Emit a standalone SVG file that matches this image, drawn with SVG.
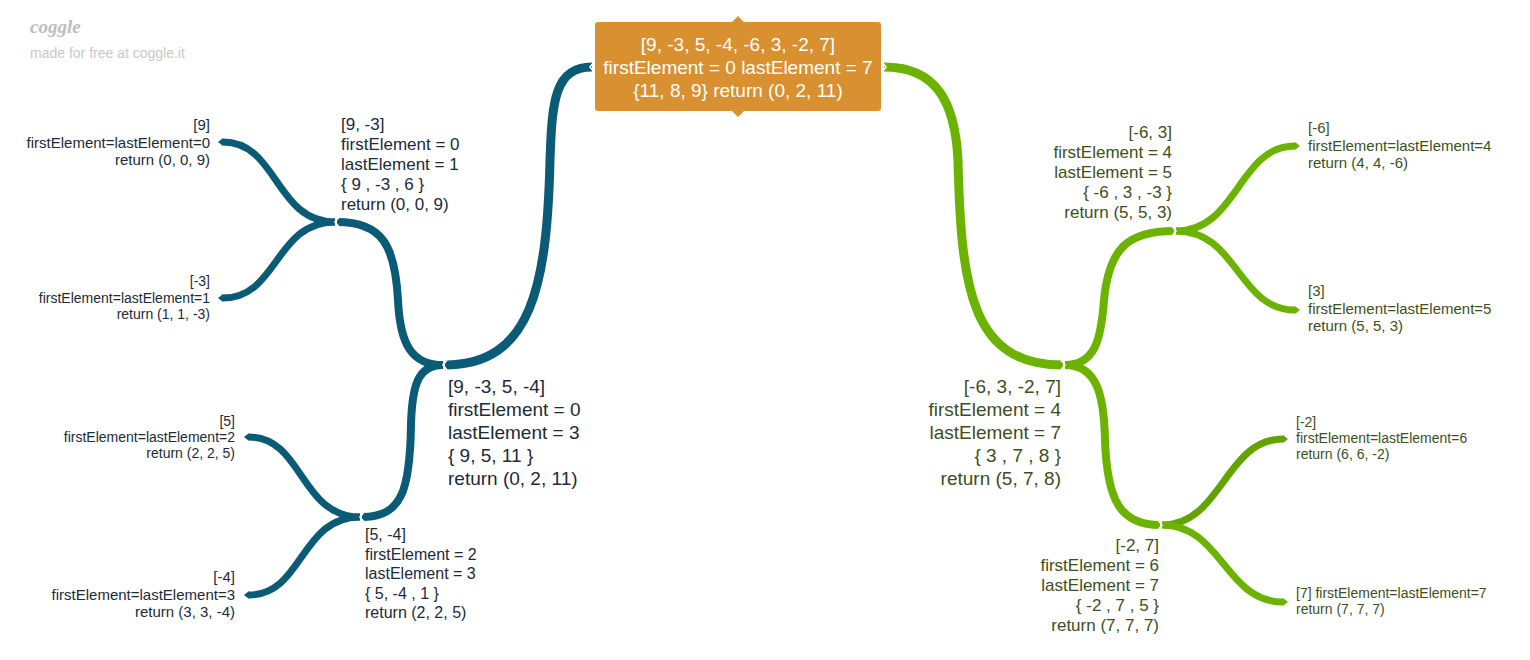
<svg xmlns="http://www.w3.org/2000/svg" width="1530" height="660" viewBox="0 0 1530 660">
<style>
text{font-family:"Liberation Sans",Arial,sans-serif}
text.logo{font-family:"Liberation Serif","Times New Roman",serif;font-style:italic;font-weight:bold}
.tl{fill:#1b2b38}
.tr{fill:#3d4f1a}
.c{fill:none;stroke-linecap:butt}
.teal{stroke:#0b5a76}
.grn{stroke:#6cb200}
.dgrn{stroke:#63a300}
.chev{fill:none;stroke:#fff;stroke-width:1.6;stroke-linejoin:miter}
</style>
<defs>
<marker id="tipT" markerUnits="userSpaceOnUse" viewBox="0 -5 6 10" markerWidth="6" markerHeight="10" refX="0" refY="0" orient="auto" overflow="visible"><path d="M0,-4 L5,0 L0,4 Z" fill="#0b5a76"/></marker>
<marker id="tipG" markerUnits="userSpaceOnUse" viewBox="0 -5 6 10" markerWidth="6" markerHeight="10" refX="0" refY="0" orient="auto" overflow="visible"><path d="M0,-4 L5,0 L0,4 Z" fill="#6cb200"/></marker>
<marker id="tipD" markerUnits="userSpaceOnUse" viewBox="0 -5 6 10" markerWidth="6" markerHeight="10" refX="0" refY="0" orient="auto" overflow="visible"><path d="M0,-4 L5,0 L0,4 Z" fill="#63a300"/></marker>
</defs>
<rect width="1530" height="660" fill="#fff"/>
<g id="logo">
<text class="logo" x="30" y="33" font-size="19" fill="#bdbdbd">coggle</text>
<text x="30" y="58" font-size="14" fill="#c8c8c8">made for free at coggle.it</text>
</g>
<g id="connectors">
<path class="c teal" stroke-width="9" d="M592,67 C555,67 552,100 550,160 C547,285 532,365 445,365"/>
<path class="c teal" stroke-width="8" d="M443,365 C412,365 400,345 398,300 C395,245 382,222 337,222"/>
<path class="c teal" stroke-width="8" d="M443,365 C418,365 412,385 411,425 C410,490 402,517 362,517"/>
<path class="c teal" stroke-width="7" marker-end="url(#tipT)" d="M335,222 C275,222 278,142 223,142"/>
<path class="c teal" stroke-width="7" marker-end="url(#tipT)" d="M335,222 C275,222 278,298 223,298"/>
<path class="c teal" stroke-width="7" marker-end="url(#tipT)" d="M360,517 C300,517 303,437 249,437"/>
<path class="c teal" stroke-width="7" marker-end="url(#tipT)" d="M360,517 C300,517 303,595 249,595"/>
<path class="c grn" stroke-width="9" d="M884,67 C935,67 955,100 958,160 C961,290 972,365 1063,365"/>
<path class="c grn" stroke-width="8" d="M1065,365 C1095,365 1101,340 1104,300 C1109,248 1128,231 1174,231"/>
<path class="c grn" stroke-width="8" d="M1065,365 C1097,365 1104,395 1105,440 C1107,500 1120,525 1160,525"/>
<path class="c grn" stroke-width="7" marker-end="url(#tipG)" d="M1176,231 C1238,231 1238,146 1295,146"/>
<path class="c grn" stroke-width="7" marker-end="url(#tipG)" d="M1176,231 C1238,231 1238,310 1295,310"/>
<path class="c dgrn" stroke-width="7" marker-end="url(#tipD)" d="M1162,525 C1222,525 1225,439 1283,439"/>
<path class="c grn" stroke-width="7" marker-end="url(#tipG)" d="M1162,525 C1222,525 1225,602 1283,602"/>
<path class="chev" d="M594,62 L590,67 L594,72"/>
<path class="chev" d="M447,360 L443,365 L447,370"/>
<path class="chev" d="M339,217 L335,222 L339,227"/>
<path class="chev" d="M364,512 L360,517 L364,522"/>
<path class="chev" d="M882,62 L886,67 L882,72"/>
<path class="chev" d="M1061,360 L1065,365 L1061,370"/>
<path class="chev" d="M1172,226 L1176,231 L1172,236"/>
<path class="chev" d="M1158,520 L1162,525 L1158,530"/>
</g>
<g id="root">
<path d="M732,22 L738,16 L744,22 Z M732,111 L738,117 L744,111 Z" fill="#d99030"/>
<rect x="595" y="22" width="286" height="89" rx="3" fill="#d99030"/>
<text x="738" font-size="19" fill="#fff" text-anchor="middle"><tspan x="738" y="51">[9, -3, 5, -4, -6, 3, -2, 7]</tspan><tspan x="738" y="74">firstElement = 0 lastElement = 7</tspan><tspan x="738" y="97">{11, 8, 9} return (0, 2, 11)</tspan></text>
</g>
<g id="n-left4">
<text class="tl" font-size="19"><tspan x="448" y="393">[9, -3, 5, -4]</tspan><tspan x="448" y="416">firstElement = 0</tspan><tspan x="448" y="439">lastElement = 3</tspan><tspan x="448" y="462">{ 9, 5, 11 }</tspan><tspan x="448" y="485">return (0, 2, 11)</tspan></text>
</g>
<g id="n-9-3">
<text class="tl" font-size="17"><tspan x="341" y="130">[9, -3]</tspan><tspan x="341" y="150">firstElement = 0</tspan><tspan x="341" y="170">lastElement = 1</tspan><tspan x="341" y="190">{ 9 , -3 , 6 }</tspan><tspan x="341" y="210">return (0, 0, 9)</tspan></text>
</g>
<g id="n-5-4">
<text class="tl" font-size="16"><tspan x="365" y="540">[5, -4]</tspan><tspan x="365" y="559.5">firstElement = 2</tspan><tspan x="365" y="579">lastElement = 3</tspan><tspan x="365" y="598.5">{ 5, -4 , 1 }</tspan><tspan x="365" y="618">return (2, 2, 5)</tspan></text>
</g>
<g id="n-9">
<text class="tl" font-size="15" text-anchor="end"><tspan x="210" y="130">[9]</tspan><tspan x="210" y="147.5">firstElement=lastElement=0</tspan><tspan x="210" y="165">return (0, 0, 9)</tspan></text>
</g>
<g id="n-m3">
<text class="tl" font-size="14" text-anchor="end"><tspan x="210" y="286">[-3]</tspan><tspan x="210" y="303">firstElement=lastElement=1</tspan><tspan x="210" y="319">return (1, 1, -3)</tspan></text>
</g>
<g id="n-5">
<text class="tl" font-size="14" text-anchor="end"><tspan x="235" y="426">[5]</tspan><tspan x="235" y="442">firstElement=lastElement=2</tspan><tspan x="235" y="458">return (2, 2, 5)</tspan></text>
</g>
<g id="n-m4">
<text class="tl" font-size="15" text-anchor="end"><tspan x="235" y="582">[-4]</tspan><tspan x="235" y="599.5">firstElement=lastElement=3</tspan><tspan x="235" y="617">return (3, 3, -4)</tspan></text>
</g>
<g id="n-right4">
<text class="tr" font-size="19" text-anchor="end"><tspan x="1061" y="393">[-6, 3, -2, 7]</tspan><tspan x="1061" y="416">firstElement = 4</tspan><tspan x="1061" y="439">lastElement = 7</tspan><tspan x="1061" y="462">{ 3 , 7 , 8 }</tspan><tspan x="1061" y="485">return (5, 7, 8)</tspan></text>
</g>
<g id="n-m6-3">
<text class="tr" font-size="17" text-anchor="end"><tspan x="1172" y="138">[-6, 3]</tspan><tspan x="1172" y="158">firstElement = 4</tspan><tspan x="1172" y="178">lastElement = 5</tspan><tspan x="1172" y="198">{ -6 , 3 , -3 }</tspan><tspan x="1172" y="218">return (5, 5, 3)</tspan></text>
</g>
<g id="n-m2-7">
<text class="tr" font-size="17" text-anchor="end"><tspan x="1159" y="551">[-2, 7]</tspan><tspan x="1159" y="571">firstElement = 6</tspan><tspan x="1159" y="591">lastElement = 7</tspan><tspan x="1159" y="611">{ -2 , 7 , 5 }</tspan><tspan x="1159" y="631">return (7, 7, 7)</tspan></text>
</g>
<g id="n-m6">
<text class="tr" font-size="15"><tspan x="1308" y="133">[-6]</tspan><tspan x="1308" y="151">firstElement=lastElement=4</tspan><tspan x="1308" y="168">return (4, 4, -6)</tspan></text>
</g>
<g id="n-3">
<text class="tr" font-size="15"><tspan x="1308" y="296">[3]</tspan><tspan x="1308" y="314">firstElement=lastElement=5</tspan><tspan x="1308" y="331">return (5, 5, 3)</tspan></text>
</g>
<g id="n-m2">
<text class="tr" font-size="14"><tspan x="1296" y="427">[-2]</tspan><tspan x="1296" y="443">firstElement=lastElement=6</tspan><tspan x="1296" y="459">return (6, 6, -2)</tspan></text>
</g>
<g id="n-7">
<text class="tr" font-size="14"><tspan x="1296" y="598">[7] firstElement=lastElement=7</tspan><tspan x="1296" y="614">return (7, 7, 7)</tspan></text>
</g>
</svg>
